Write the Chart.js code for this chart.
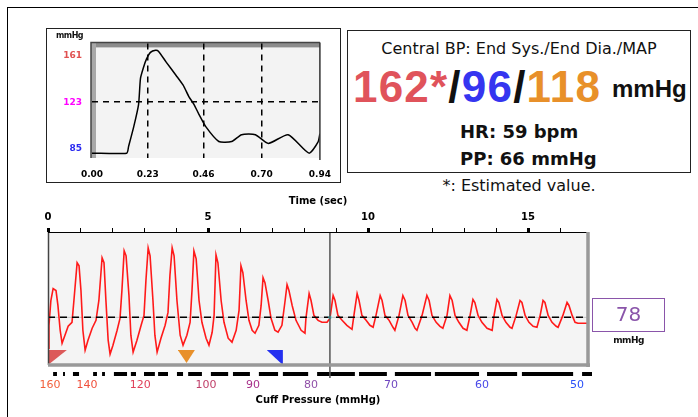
<!DOCTYPE html>
<html lang="en">
<head>
<meta charset="UTF-8">
<title>Central BP</title>
<script src="https://cdn.jsdelivr.net/npm/chart.js@4.4.0/dist/chart.umd.min.js"></script>
<style>
  html, body { margin: 0; padding: 0; background: #fff; }
  body { width: 698px; height: 417px; position: relative; overflow: hidden; font-family: "DejaVu Sans", sans-serif; }
  .abs { position: absolute; white-space: nowrap; }
  .box { box-sizing: border-box; }
  #frame { left: 7px; top: 7px; width: 700px; height: 420px; border-left: 1.5px solid #000; border-top: 1.5px solid #000; }
  #miniBox { left: 46px; top: 28px; width: 295px; height: 155px; border: 1.5px solid #222; }
  #info { left: 347px; top: 30px; width: 344px; height: 143px; border: 1.5px solid #222; }
  #title { left: 347px; width: 344px; top: 41px; text-align: center; font-size: 16px; line-height: 16px; color: #111; }
  #big { left: 353px; top: 65px; font-family: "Liberation Sans", Arial, sans-serif; font-weight: bold; font-size: 44px; line-height: 44px; letter-spacing: 1.2px; }
  #bigUnit { left: 612px; top: 77px; font-family: "Liberation Sans", Arial, sans-serif; font-weight: bold; font-size: 24px; line-height: 24px; color: #111; }
  .stat { left: 460px; font-weight: bold; font-size: 18px; line-height: 18px; color: #111; }
  #note { left: 347px; width: 344px; top: 178px; text-align: center; font-size: 16px; line-height: 16px; color: #111; }
  #miniUnit { left: 56px; top: 32px; font-size: 8px; line-height: 8px; font-weight: bold; color: #111; letter-spacing: -0.5px; }
  #curBox { left: 592px; top: 298px; width: 73px; height: 34px; border: 1.5px solid #8a55aa; }
  #curVal { left: 592px; width: 73px; top: 304px; text-align: center; font-size: 20px; line-height: 20px; color: #8a55aa; }
  #curUnit { left: 592px; width: 73px; top: 336px; text-align: center; font-size: 9px; line-height: 9px; font-weight: bold; color: #111; letter-spacing: -0.5px; }
  #miniWrap { left: 46px; top: 28px; width: 296px; height: 156px; }
  #mainWrap { left: 20px; top: 192px; width: 590px; height: 225px; }
</style>
</head>
<body>
  <div id="frame" class="abs"></div>
  <div id="miniBox" class="abs box"></div>
  <div id="info" class="abs box"></div>
  <div id="title" class="abs">Central BP: End Sys./End Dia./MAP</div>
  <div id="big" class="abs"><span style="color:#e0535b">162*</span><span style="color:#111">/</span><span style="color:#3535f0">96</span><span style="color:#111">/</span><span style="color:#e8902a">118</span></div>
  <div id="bigUnit" class="abs">mmHg</div>
  <div class="abs stat" style="top:123px">HR: 59 bpm</div>
  <div class="abs stat" style="top:150px">PP: 66 mmHg</div>
  <div id="note" class="abs">*: Estimated value.</div>

  <div id="miniWrap" class="abs"><canvas id="miniChart" width="296" height="156"></canvas></div>
  <div id="miniUnit" class="abs">mmHg</div>

  <div id="mainWrap" class="abs"><canvas id="mainChart" width="590" height="225"></canvas></div>
  <div id="curBox" class="abs box"></div>
  <div id="curVal" class="abs">78</div>
  <div id="curUnit" class="abs">mmHg</div>

<script>
// ---- central pulse (one beat) ----
var miniTimes = [0, 0.143, 0.151, 0.172, 0.192, 0.200, 0.213, 0.225, 0.241, 0.262, 0.274, 0.306, 0.347, 0.376,
                 0.400, 0.421, 0.441, 0.470, 0.523, 0.576, 0.617, 0.674, 0.727, 0.809, 0.895, 0.932, 0.940];
var miniPressure = [81, 81, 86.6, 102.6, 121, 142.6, 152, 158.6, 164, 165.8, 165, 156, 145, 137,
                    127.4, 121, 113, 102.6, 90.6, 90.6, 96.2, 96.2, 89, 96.2, 81, 90, 97];
var miniTimeTicks = [0, 0.23, 0.46, 0.70, 0.94];
var miniPressureTicks = [85, 123, 161];
var miniTickColors = ['#2a2af0', '#ff00ff', '#e05050'];

// ---- cuff oscillation record ----
var recTimes = [0.00, 0.03, 0.09, 0.16, 0.25, 0.31, 0.38, 0.44, 0.53, 0.63, 0.75, 0.81, 0.91, 0.97, 1.03, 1.09,
  1.16, 1.25, 1.38, 1.50, 1.59, 1.69, 1.75, 1.81, 1.88, 1.94, 2.03, 2.16, 2.25, 2.31, 2.38, 2.44,
  2.53, 2.59, 2.66, 2.78, 2.91, 3.00, 3.06, 3.13, 3.19, 3.28, 3.34, 3.41, 3.53, 3.66, 3.75, 3.81,
  3.88, 3.94, 4.03, 4.13, 4.22, 4.34, 4.44, 4.50, 4.56, 4.63, 4.72, 4.81, 4.94, 5.03, 5.13, 5.19,
  5.25, 5.31, 5.41, 5.50, 5.63, 5.75, 5.88, 5.97, 6.03, 6.09, 6.19, 6.28, 6.38, 6.47, 6.59, 6.66,
  6.72, 6.78, 6.88, 6.97, 7.09, 7.19, 7.31, 7.41, 7.47, 7.53, 7.63, 7.75, 7.91, 8.03, 8.06, 8.16,
  8.22, 8.31, 8.44, 8.56, 8.72, 8.81, 8.91, 8.97, 9.06, 9.19, 9.34, 9.50, 9.56, 9.66, 9.72, 9.81,
  9.94, 10.06, 10.16, 10.25, 10.38, 10.44, 10.53, 10.66, 10.78, 10.84, 10.97, 11.09, 11.16, 11.25, 11.38, 11.47,
  11.53, 11.69, 11.84, 11.91, 12.00, 12.13, 12.25, 12.34, 12.47, 12.56, 12.63, 12.72, 12.84, 12.97, 13.09, 13.19,
  13.28, 13.34, 13.44, 13.56, 13.72, 13.88, 13.94, 14.03, 14.09, 14.19, 14.31, 14.44, 14.50, 14.63, 14.75, 14.81,
  14.91, 15.03, 15.16, 15.28, 15.38, 15.47, 15.53, 15.63, 15.75, 15.88, 15.94, 16.09, 16.22, 16.28, 16.38, 16.47,
  16.56, 16.88];
var recPulse = [-3.1, -0.8, 1.7, 2.9, 2.7, 1.2, -1.3, -2.6, -1.8, -0.9, -0.5, 1.7, 5.5, 5.2, 2.7, -1.3,
  -3.3, -2.3, -1.1, -0.3, 1.7, 6.0, 5.5, 1.7, -2.3, -3.7, -2.8, -1.3, -0.1, 2.7, 6.7, 6.2,
  2.2, -1.8, -3.5, -2.3, -0.8, 0.2, 3.7, 7.0, 6.2, 1.7, -1.8, -3.5, -2.1, -0.8, 0.5, 4.2,
  7.0, 6.2, 1.7, -1.8, -2.8, -1.8, -0.5, 2.7, 6.7, 5.9, 1.7, -0.5, -2.1, -2.8, -1.5, 0.2,
  6.3, 5.5, 1.7, -0.5, -2.1, -2.5, -1.3, 0.7, 5.2, 4.5, 1.7, -0.3, -1.3, -1.6, -0.8, 1.2,
  4.0, 3.5, 1.7, -0.1, -1.3, -1.5, -0.8, 1.7, 3.3, 2.7, 1.2, -0.3, -1.3, -1.6, -0.1, 2.4,
  1.7, 0.2, -0.3, -0.5, -0.5, -0.1, 2.2, 1.7, 0.2, -0.3, -0.8, -1.2, 0.2, 2.4, 1.7, 0.2,
  -0.3, -0.8, -1.0, 0.2, 2.2, 1.7, 0.2, -0.3, -1.0, -1.3, 0.2, 2.2, 1.7, 0.2, -0.5, -1.1,
  -1.3, 0.2, 2.2, 1.7, 0.2, -0.5, -0.9, -1.1, 0.2, 2.2, 1.7, 0.2, -0.5, -1.1, -1.3, 0.2,
  1.8, 1.5, 0.2, -0.5, -1.1, -1.3, 0.2, 1.8, 1.5, 0.2, -0.5, -1.0, -1.1, 0.2, 1.7, 1.5,
  0.2, -0.5, -0.9, -1.0, 0.2, 1.7, 1.5, 0.2, -0.5, -0.9, -1.0, 0.2, 1.5, 1.2, 0.2, -0.5,
  -0.6, -0.6];
var recEnd = 16.875;
var recMin = -4.8;
var recMax = 8.6;
var secondTicks = [0, 1, 2, 3, 4, 5, 6, 7, 8, 9, 10, 11, 12, 13, 14, 15, 16];

// cuff pressure scale under the record
var cuffTickTimes = [0.06, 1.22, 2.88, 4.94, 6.41, 8.22, 10.72, 13.56, 16.53];
var cuffPressures = [160, 140, 120, 100, 90, 80, 70, 60, 50];
var cuffColors = ['#f2603c', '#f0503c', '#e0405a', '#c0406a', '#a8308a', '#9050a8', '#7048c0', '#4848e8', '#2a50f8'];
var segStarts = [0.16, 0.47, 0.78, 1.41, 1.69, 2.06, 2.59, 3.00, 3.44, 4.03, 4.38, 5.09, 5.78, 6.59, 7.34, 8.41, 9.72, 10.84, 12.09, 13.72, 14.81, 16.69];
var segEnds   = [0.28, 0.53, 0.97, 1.53, 1.78, 2.47, 2.75, 3.34, 3.75, 4.22, 4.81, 5.63, 6.31, 7.19, 8.13, 9.59, 10.59, 11.97, 13.47, 14.66, 16.41, 17.00];
var segLevel = -5.7;

// current cursor and marker triangles
var cursorTime = 8.81;
var cursorLow = -6.1;
var sysMarkT = [0, 0.59],          sysMarkV = [-4.8, -3.3];
var mapMarkT = [4.06, 4.33, 4.59], mapMarkV = [-3.3, -4.6, -3.3];
var diaMarkT = [6.84, 7.34],       diaMarkV = [-3.3, -4.8];
var markTop = -3.3;

function pts(xs, ys) {
  return xs.map(function (x, i) { return { x: x, y: ys[i] }; });
}

var segData = [];
segStarts.forEach(function (s, i) {
  segData.push({ x: s, y: segLevel }, { x: segEnds[i], y: segLevel }, { x: segEnds[i], y: null });
});

var smallFont = { family: 'DejaVu Sans', size: 10, weight: 'bold' };

// gray panel + borders of the record
var recPanel = {
  id: 'recPanel',
  beforeDraw: function (chart) {
    var a = chart.chartArea, ctx = chart.ctx;
    ctx.save();
    ctx.fillStyle = '#f4f4f4';
    ctx.fillRect(a.left, a.top, a.right - a.left, a.bottom - a.top);
    ctx.restore();
  },
  afterDatasetsDraw: function (chart) {
    var a = chart.chartArea, ctx = chart.ctx;
    ctx.save();
    ctx.strokeStyle = '#444'; ctx.lineWidth = 1.5;
    ctx.beginPath(); ctx.moveTo(a.left + 0.5, a.top); ctx.lineTo(a.left + 0.5, a.bottom); ctx.stroke();
    ctx.strokeStyle = '#000'; ctx.lineWidth = 1;
    ctx.beginPath(); ctx.moveTo(a.left, a.top + 0.5); ctx.lineTo(a.right, a.top + 0.5); ctx.stroke();
    ctx.strokeStyle = '#999'; ctx.lineWidth = 3.5;
    ctx.beginPath(); ctx.moveTo(a.left, a.bottom); ctx.lineTo(a.right + 2, a.bottom); ctx.stroke();
    ctx.beginPath(); ctx.moveTo(a.right, a.top); ctx.lineTo(a.right, a.bottom + 2); ctx.stroke();
    ctx.restore();
  }
};

// bevelled panel of the small beat chart
var beatPanel = {
  id: 'beatPanel',
  beforeDraw: function (chart) {
    var a = chart.chartArea, ctx = chart.ctx;
    ctx.save();
    ctx.fillStyle = '#f3f3f3';
    ctx.fillRect(a.left, a.top, a.right - a.left, a.bottom - a.top);
    ctx.fillStyle = '#8c8c8c';
    ctx.fillRect(a.left - 1, a.top - 1, a.right - a.left + 1, 5);
    ctx.fillStyle = '#a8a8a8';
    ctx.fillRect(a.left - 1, a.top - 1, 5, a.bottom - a.top + 1);
    ctx.strokeStyle = '#444'; ctx.lineWidth = 1.5;
    ctx.beginPath(); ctx.moveTo(a.left - 1, a.bottom); ctx.lineTo(a.left - 1, a.top - 1); ctx.lineTo(a.right, a.top - 1); ctx.stroke();
    ctx.restore();
  },
  afterDatasetsDraw: function (chart) {
    var a = chart.chartArea, ctx = chart.ctx;
    ctx.save();
    ctx.strokeStyle = '#333'; ctx.lineWidth = 1.5;
    ctx.beginPath(); ctx.moveTo(a.right, a.top - 1); ctx.lineTo(a.right, a.bottom + 2); ctx.stroke();
    ctx.restore();
  }
};

new Chart(document.getElementById('miniChart'), {
  type: 'line',
  data: {
    datasets: [{
      data: pts(miniTimes, miniPressure),
      borderColor: '#000', borderWidth: 1.5, pointRadius: 0, tension: 0.2
    }]
  },
  options: {
    responsive: false, animation: false, devicePixelRatio: 1,
    layout: { padding: { left: 0, right: 20, top: 12, bottom: 0 } },
    plugins: { legend: { display: false }, tooltip: { enabled: false } },
    scales: {
      x: {
        type: 'linear', min: 0, max: 0.94,
        afterBuildTicks: function (s) { s.ticks = miniTimeTicks.map(function (v) { return { value: v }; }); },
        afterFit: function (s) { s.height = 26; },
        ticks: { callback: function (v) { return v.toFixed(2); }, font: { family: 'DejaVu Sans', size: 9, weight: 'bold' }, color: '#000', padding: 11, autoSkip: false, maxRotation: 0 },
        grid: { drawTicks: false, lineWidth: 1.5, color: function (c) { return c.index > 0 && c.index < 4 ? '#000' : 'rgba(0,0,0,0)'; } },
        border: { display: false, dash: [6, 5] }
      },
      y: {
        min: 77, max: 171.4,
        afterBuildTicks: function (s) { s.ticks = miniPressureTicks.map(function (v) { return { value: v }; }); },
        afterFit: function (s) { s.width = 46; },
        ticks: { color: function (c) { return miniTickColors[c.index]; }, font: { family: 'DejaVu Sans', size: 9, weight: 'bold' }, padding: 10 },
        grid: { drawTicks: false, lineWidth: 1.5, color: function (c) { return c.index === 1 ? '#000' : 'rgba(0,0,0,0)'; } },
        border: { display: false, dash: [6, 5] }
      }
    }
  },
  plugins: [beatPanel]
});

new Chart(document.getElementById('mainChart'), {
  type: 'line',
  data: {
    datasets: [
      { data: [{ x: 0, y: 0 }, { x: recEnd, y: 0 }], borderColor: '#000', borderWidth: 1.5, borderDash: [7, 5], pointRadius: 0, order: 1 },
      { data: [{ x: 0, y: 0 }, { x: recEnd, y: 0 }], borderColor: '#c4c4c4', borderWidth: 1, pointRadius: 0, order: 6 },
      { data: pts(recTimes, recPulse), borderColor: '#ff1a1a', borderWidth: 1.6, pointRadius: 0, tension: 0, order: 2 },
      { data: [{ x: cursorTime, y: recMax }, { x: cursorTime, y: cursorLow }], borderColor: '#555', borderWidth: 1.5, pointRadius: 0, clip: false, order: 0 },
      { data: [{ x: cursorTime, y: 0 }], showLine: false, pointStyle: 'rect', pointRadius: 2, pointBackgroundColor: '#3fd8e0', pointBorderWidth: 0, order: 0 },
      { data: segData, borderColor: '#000', borderWidth: 4, pointRadius: 0, spanGaps: false, clip: false, borderCapStyle: 'butt', order: 3 },
      { data: pts(sysMarkT, sysMarkV), borderWidth: 0, pointRadius: 0, fill: { value: markTop }, backgroundColor: '#dc5a5a', order: 3 },
      { data: pts(mapMarkT, mapMarkV), borderWidth: 0, pointRadius: 0, fill: { value: markTop }, backgroundColor: '#e8902a', order: 3 },
      { data: pts(diaMarkT, diaMarkV), borderWidth: 0, pointRadius: 0, fill: { value: markTop }, backgroundColor: '#2430f0', order: 3 }
    ]
  },
  options: {
    responsive: false, animation: false, devicePixelRatio: 1,
    layout: { padding: { left: 28, right: 22, top: 0, bottom: 0 } },
    plugins: { legend: { display: false }, tooltip: { enabled: false } },
    scales: {
      x: {
        type: 'linear', position: 'top', min: 0, max: recEnd,
        afterBuildTicks: function (s) { s.ticks = secondTicks.map(function (v) { return { value: v }; }); },
        afterFit: function (s) { s.height = 40; },
        ticks: { callback: function (v) { return v % 5 === 0 ? String(v) : ''; }, font: smallFont, color: '#000', padding: 5, autoSkip: false, maxRotation: 0 },
        grid: { drawOnChartArea: false, drawTicks: true, tickLength: 4, color: '#000', lineWidth: function (c) { return c.tick && c.tick.value % 5 === 0 ? 3 : 1; } },
        border: { display: false },
        title: { display: true, text: 'Time (sec)', font: smallFont, color: '#000', padding: { top: 3, bottom: 0 } }
      },
      cuff: {
        type: 'linear', position: 'bottom', min: 0, max: recEnd,
        afterBuildTicks: function (s) { s.ticks = cuffTickTimes.map(function (v) { return { value: v }; }); },
        afterFit: function (s) { s.height = 52; },
        ticks: { callback: function (v, i) { return String(cuffPressures[i]); }, color: function (c) { return cuffColors[c.index]; }, font: { family: 'DejaVu Sans', size: 11 }, padding: 14, autoSkip: false, maxRotation: 0 },
        grid: { display: false, drawTicks: false },
        border: { display: false },
        title: { display: true, text: 'Cuff Pressure (mmHg)', font: smallFont, color: '#000', padding: { top: 0, bottom: 11 } }
      },
      y: { display: false, min: recMin, max: recMax }
    }
  },
  plugins: [recPanel]
});
</script>
</body>
</html>
